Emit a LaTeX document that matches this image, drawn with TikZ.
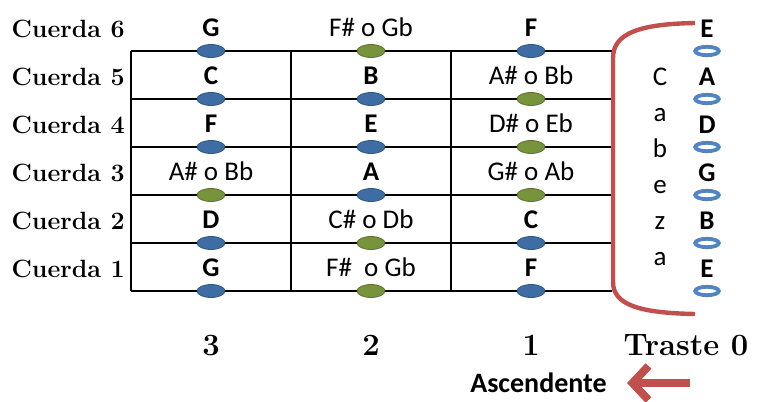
\documentclass[tikz,border=0pt]{standalone}
\usepackage{fontspec}
\usepackage{tikz}
\usetikzlibrary{shapes.geometric, positioning, arrows.meta}
\newfontfamily\notafont{Carlito}
\definecolor{azulnota}{HTML}{3D6DA3}
\definecolor{azulborde}{HTML}{2F5785}
\definecolor{verdenota}{HTML}{77933C}
\definecolor{verdeborde}{HTML}{5E7530}
\definecolor{azulabierto}{HTML}{5283C2}
\definecolor{rojollave}{HTML}{C0504D}
\tikzset{
traste/.style={draw=black, line width=0.8pt}, % lines of the fretboard
punto/.style={ellipse, inner sep=0pt, minimum width=14pt, minimum height=6.5pt, line width=0.4pt},
azul/.style={punto, draw=azulborde, fill=azulnota}, % natural notes
verde/.style={punto, draw=verdeborde, fill=verdenota}, % sharp / flat notes
abierta/.style={ellipse, inner sep=0pt, minimum width=11.8pt, minimum height=4.2pt, line width=1.9pt, draw=azulabierto, fill=white}, % open strings
natural/.style={font=\notafont\bfseries\fontsize{13.5}{16}\selectfont, inner sep=0pt, text height=9pt, text depth=0pt},
alterada/.style={font=\notafont\fontsize{13.5}{16}\selectfont, inner sep=0pt, text height=9pt, text depth=0pt},
cuerda/.style={font=\bfseries\fontsize{12.5}{15}\selectfont, inner sep=0pt, anchor=base east},
numtraste/.style={font=\bfseries\fontsize{15.5}{18}\selectfont, inner sep=0pt, anchor=base},
cabeza/.style={font=\notafont\fontsize{13.5}{16}\selectfont, inner sep=0pt, anchor=base},
llave/.style={draw=rojollave, line width=2.2pt}, % the nut bracket
flecha/.style={draw=rojollave, line width=4pt, -{Straight Barb[length=8pt,width=17pt]}},
}

\begin{document}
\begin{tikzpicture}[x=0.5pt, y=-0.5pt, node distance=3.5pt]
    \useasboundingbox (0,0) rectangle (759,401);

    % fretboard
    \draw[traste] (131,51) -- (612,51);
    \draw[traste] (131,99) -- (612,99);
    \draw[traste] (131,147) -- (612,147);
    \draw[traste] (131,195) -- (612,195);
    \draw[traste] (131,243) -- (612,243);
    \draw[traste] (131,291) -- (612,291);
    \draw[traste] (131,51) -- (131,291);
    \draw[traste] (291,51) -- (291,291);
    \draw[traste] (451,51) -- (451,291);

    % cuerda 6
    \node[azul] (n63) at (211,51) {};
    \node[verde] (n62) at (371,51) {};
    \node[azul] (n61) at (531,51) {};
    \node[abierta] (n60) at (707,51) {};
    \node[natural, above=of n63] (l63) {G};
    \node[alterada, above=of n62] (l62) {F\# o Gb};
    \node[natural, above=of n61] (l61) {F};
    \node[natural, above=of n60] (l60) {E};

    % cuerda 5
    \node[azul] (n53) at (211,99) {};
    \node[azul] (n52) at (371,99) {};
    \node[verde] (n51) at (531,99) {};
    \node[abierta] (n50) at (707,99) {};
    \node[natural, above=of n53] (l53) {C};
    \node[natural, above=of n52] (l52) {B};
    \node[alterada, above=of n51] (l51) {A\# o Bb};
    \node[natural, above=of n50] (l50) {A};

    % cuerda 4
    \node[azul] (n43) at (211,147) {};
    \node[azul] (n42) at (371,147) {};
    \node[verde] (n41) at (531,147) {};
    \node[abierta] (n40) at (707,147) {};
    \node[natural, above=of n43] (l43) {F};
    \node[natural, above=of n42] (l42) {E};
    \node[alterada, above=of n41] (l41) {D\# o Eb};
    \node[natural, above=of n40] (l40) {D};

    % cuerda 3
    \node[verde] (n33) at (211,195) {};
    \node[azul] (n32) at (371,195) {};
    \node[verde] (n31) at (531,195) {};
    \node[abierta] (n30) at (707,195) {};
    \node[alterada, above=of n33] (l33) {A\# o Bb};
    \node[natural, above=of n32] (l32) {A};
    \node[alterada, above=of n31] (l31) {G\# o Ab};
    \node[natural, above=of n30] (l30) {G};

    % cuerda 2
    \node[azul] (n23) at (211,243) {};
    \node[verde] (n22) at (371,243) {};
    \node[azul] (n21) at (531,243) {};
    \node[abierta] (n20) at (707,243) {};
    \node[natural, above=of n23] (l23) {D};
    \node[alterada, above=of n22] (l22) {C\# o Db};
    \node[natural, above=of n21] (l21) {C};
    \node[natural, above=of n20] (l20) {B};

    % cuerda 1
    \node[azul] (n13) at (211,291) {};
    \node[verde] (n12) at (371,291) {};
    \node[azul] (n11) at (531,291) {};
    \node[abierta] (n10) at (707,291) {};
    \node[natural, above=of n13] (l13) {G};
    \node[alterada, above=of n12] (l12) {F\#\ \ o Gb};
    \node[natural, above=of n11] (l11) {F};
    \node[natural, above=of n10] (l10) {E};

    % string names
    \node[cuerda] (c6) at (125,37.5) {Cuerda 6};
    \node[cuerda] (c5) at (125,85.5) {Cuerda 5};
    \node[cuerda] (c4) at (125,133.5) {Cuerda 4};
    \node[cuerda] (c3) at (125,181.5) {Cuerda 3};
    \node[cuerda] (c2) at (125,229.5) {Cuerda 2};
    \node[cuerda] (c1) at (125,277.5) {Cuerda 1};

    % nut
    \draw[llave] (695,23) .. controls (640,24) and (613,33) .. (613,58) -- (613,282) .. controls (613,305) and (640,313) .. (695,314);
    \node[cabeza] (cab1) at (660,85) {C};
    \node[cabeza] (cab2) at (660,121) {a};
    \node[cabeza] (cab3) at (660,157) {b};
    \node[cabeza] (cab4) at (660,193) {e};
    \node[cabeza] (cab5) at (660,229) {z};
    \node[cabeza] (cab6) at (660,265) {a};

    % fret numbers
    \node[numtraste] (f3) at (211,355) {3};
    \node[numtraste] (f2) at (371,355) {2};
    \node[numtraste] (f1) at (531,355) {1};
    \node[numtraste] (f0) at (686,355) {Traste 0};

    \coordinate (colaflecha) at (690,383);
    \coordinate (puntaflecha) at (627,383);
    \draw[flecha] (colaflecha) -- (puntaflecha);
    \node[font=\notafont\bfseries\fontsize{14}{16}\selectfont, inner sep=0pt, left=10pt of puntaflecha] (asc) {Ascendente};
\end{tikzpicture}
\end{document}
